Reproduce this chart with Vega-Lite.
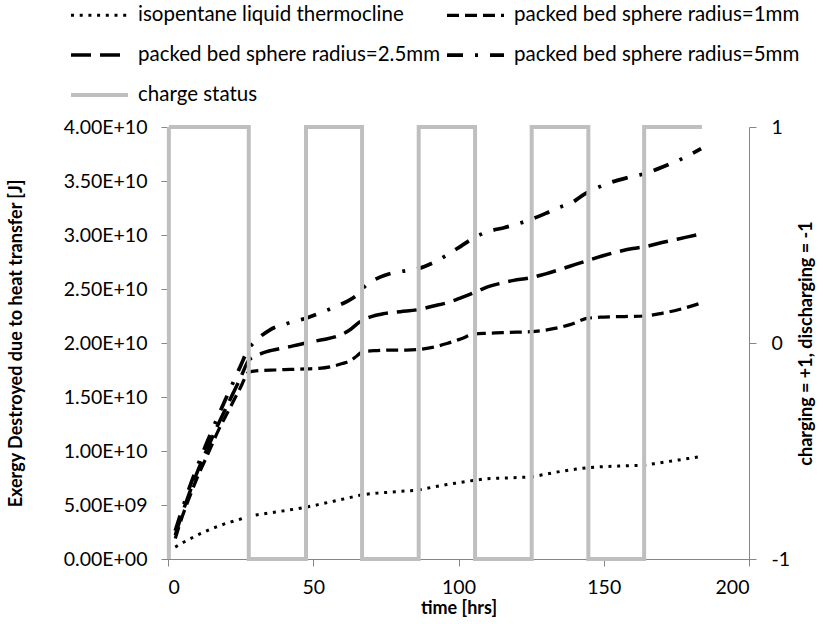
{
  "$schema": "https://vega.github.io/schema/vega-lite/v6.json",
  "width": 581,
  "height": 432,
  "autosize": {"type": "none"},
  "padding": {"left": 168, "top": 127, "right": 74, "bottom": 65},
  "background": "white",
  "config": {
    "view": {"stroke": null},
    "font": "Lato",
    "axis": {
      "grid": false,
      "domainColor": "#868686",
      "tickColor": "#868686",
      "tickSize": 7,
      "labelColor": "#000000",
      "labelFont": "Lato",
      "labelFontSize": 19.5,
      "titleFont": "Lato",
      "titleFontSize": 18,
      "titleFontWeight": "bold",
      "titleColor": "#000000"
    },
    "legend": {
      "labelFont": "Lato",
      "labelFontSize": 20.5,
      "labelColor": "#000000",
      "labelLimit": 0
    }
  },
  "datasets": {
    "d": [
      {"series": "isopentane liquid thermocline", "t": 2.5, "e": 1.1e9},
      {"series": "isopentane liquid thermocline", "t": 5, "e": 1.5e9},
      {"series": "isopentane liquid thermocline", "t": 7.5, "e": 1.85e9},
      {"series": "isopentane liquid thermocline", "t": 10, "e": 2.2e9},
      {"series": "isopentane liquid thermocline", "t": 12.5, "e": 2.5e9},
      {"series": "isopentane liquid thermocline", "t": 15, "e": 2.8e9},
      {"series": "isopentane liquid thermocline", "t": 17.5, "e": 3.05e9},
      {"series": "isopentane liquid thermocline", "t": 20, "e": 3.3e9},
      {"series": "isopentane liquid thermocline", "t": 22.5, "e": 3.5e9},
      {"series": "isopentane liquid thermocline", "t": 25, "e": 3.7e9},
      {"series": "isopentane liquid thermocline", "t": 27.8, "e": 3.95e9},
      {"series": "isopentane liquid thermocline", "t": 32, "e": 4.15e9},
      {"series": "isopentane liquid thermocline", "t": 37, "e": 4.35e9},
      {"series": "isopentane liquid thermocline", "t": 42, "e": 4.55e9},
      {"series": "isopentane liquid thermocline", "t": 47.5, "e": 4.8e9},
      {"series": "isopentane liquid thermocline", "t": 52, "e": 5.05e9},
      {"series": "isopentane liquid thermocline", "t": 57, "e": 5.35e9},
      {"series": "isopentane liquid thermocline", "t": 62, "e": 5.65e9},
      {"series": "isopentane liquid thermocline", "t": 67, "e": 5.95e9},
      {"series": "isopentane liquid thermocline", "t": 72, "e": 6.1e9},
      {"series": "isopentane liquid thermocline", "t": 77, "e": 6.2e9},
      {"series": "isopentane liquid thermocline", "t": 82, "e": 6.3e9},
      {"series": "isopentane liquid thermocline", "t": 86.3, "e": 6.4e9},
      {"series": "isopentane liquid thermocline", "t": 91, "e": 6.65e9},
      {"series": "isopentane liquid thermocline", "t": 96, "e": 6.9e9},
      {"series": "isopentane liquid thermocline", "t": 101, "e": 7.1e9},
      {"series": "isopentane liquid thermocline", "t": 105.7, "e": 7.3e9},
      {"series": "isopentane liquid thermocline", "t": 111, "e": 7.45e9},
      {"series": "isopentane liquid thermocline", "t": 116, "e": 7.5e9},
      {"series": "isopentane liquid thermocline", "t": 121, "e": 7.55e9},
      {"series": "isopentane liquid thermocline", "t": 125.2, "e": 7.62e9},
      {"series": "isopentane liquid thermocline", "t": 130, "e": 7.85e9},
      {"series": "isopentane liquid thermocline", "t": 135, "e": 8.1e9},
      {"series": "isopentane liquid thermocline", "t": 140, "e": 8.3e9},
      {"series": "isopentane liquid thermocline", "t": 144.7, "e": 8.46e9},
      {"series": "isopentane liquid thermocline", "t": 150, "e": 8.55e9},
      {"series": "isopentane liquid thermocline", "t": 155, "e": 8.6e9},
      {"series": "isopentane liquid thermocline", "t": 160, "e": 8.65e9},
      {"series": "isopentane liquid thermocline", "t": 164, "e": 8.7e9},
      {"series": "isopentane liquid thermocline", "t": 169, "e": 8.9e9},
      {"series": "isopentane liquid thermocline", "t": 174, "e": 9.1e9},
      {"series": "isopentane liquid thermocline", "t": 179, "e": 9.3e9},
      {"series": "isopentane liquid thermocline", "t": 183.5, "e": 9.5e9},

      {"series": "packed bed sphere radius=1mm", "t": 2.5, "e": 1.9e9},
      {"series": "packed bed sphere radius=1mm", "t": 5, "e": 4.0e9},
      {"series": "packed bed sphere radius=1mm", "t": 7.5, "e": 5.8e9},
      {"series": "packed bed sphere radius=1mm", "t": 10, "e": 7.5e9},
      {"series": "packed bed sphere radius=1mm", "t": 12.5, "e": 9.0e9},
      {"series": "packed bed sphere radius=1mm", "t": 15, "e": 10.5e9},
      {"series": "packed bed sphere radius=1mm", "t": 17.5, "e": 12.0e9},
      {"series": "packed bed sphere radius=1mm", "t": 20, "e": 13.3e9},
      {"series": "packed bed sphere radius=1mm", "t": 22.5, "e": 14.6e9},
      {"series": "packed bed sphere radius=1mm", "t": 25, "e": 15.9e9},
      {"series": "packed bed sphere radius=1mm", "t": 27.8, "e": 17.3e9},
      {"series": "packed bed sphere radius=1mm", "t": 32, "e": 17.45e9},
      {"series": "packed bed sphere radius=1mm", "t": 37, "e": 17.5e9},
      {"series": "packed bed sphere radius=1mm", "t": 42, "e": 17.55e9},
      {"series": "packed bed sphere radius=1mm", "t": 47.5, "e": 17.6e9},
      {"series": "packed bed sphere radius=1mm", "t": 52, "e": 17.65e9},
      {"series": "packed bed sphere radius=1mm", "t": 56, "e": 17.8e9},
      {"series": "packed bed sphere radius=1mm", "t": 60, "e": 18.1e9},
      {"series": "packed bed sphere radius=1mm", "t": 63, "e": 18.4e9},
      {"series": "packed bed sphere radius=1mm", "t": 65, "e": 18.8e9},
      {"series": "packed bed sphere radius=1mm", "t": 67, "e": 19.2e9},
      {"series": "packed bed sphere radius=1mm", "t": 72, "e": 19.3e9},
      {"series": "packed bed sphere radius=1mm", "t": 77, "e": 19.35e9},
      {"series": "packed bed sphere radius=1mm", "t": 82, "e": 19.35e9},
      {"series": "packed bed sphere radius=1mm", "t": 86.3, "e": 19.4e9},
      {"series": "packed bed sphere radius=1mm", "t": 91, "e": 19.6e9},
      {"series": "packed bed sphere radius=1mm", "t": 96, "e": 19.95e9},
      {"series": "packed bed sphere radius=1mm", "t": 101, "e": 20.4e9},
      {"series": "packed bed sphere radius=1mm", "t": 105.7, "e": 20.85e9},
      {"series": "packed bed sphere radius=1mm", "t": 110, "e": 20.9e9},
      {"series": "packed bed sphere radius=1mm", "t": 115, "e": 20.95e9},
      {"series": "packed bed sphere radius=1mm", "t": 120, "e": 21.0e9},
      {"series": "packed bed sphere radius=1mm", "t": 125, "e": 21.05e9},
      {"series": "packed bed sphere radius=1mm", "t": 130, "e": 21.2e9},
      {"series": "packed bed sphere radius=1mm", "t": 135, "e": 21.45e9},
      {"series": "packed bed sphere radius=1mm", "t": 138.4, "e": 21.7e9},
      {"series": "packed bed sphere radius=1mm", "t": 144.7, "e": 22.3e9},
      {"series": "packed bed sphere radius=1mm", "t": 150, "e": 22.4e9},
      {"series": "packed bed sphere radius=1mm", "t": 157, "e": 22.45e9},
      {"series": "packed bed sphere radius=1mm", "t": 164, "e": 22.5e9},
      {"series": "packed bed sphere radius=1mm", "t": 170, "e": 22.75e9},
      {"series": "packed bed sphere radius=1mm", "t": 176, "e": 23.1e9},
      {"series": "packed bed sphere radius=1mm", "t": 183.5, "e": 23.7e9},

      {"series": "packed bed sphere radius=2.5mm", "t": 2.5, "e": 2.2e9},
      {"series": "packed bed sphere radius=2.5mm", "t": 5, "e": 4.3e9},
      {"series": "packed bed sphere radius=2.5mm", "t": 7.5, "e": 6.2e9},
      {"series": "packed bed sphere radius=2.5mm", "t": 10, "e": 8.0e9},
      {"series": "packed bed sphere radius=2.5mm", "t": 12.5, "e": 9.6e9},
      {"series": "packed bed sphere radius=2.5mm", "t": 15, "e": 11.1e9},
      {"series": "packed bed sphere radius=2.5mm", "t": 17.5, "e": 12.6e9},
      {"series": "packed bed sphere radius=2.5mm", "t": 20, "e": 14.0e9},
      {"series": "packed bed sphere radius=2.5mm", "t": 22.5, "e": 15.4e9},
      {"series": "packed bed sphere radius=2.5mm", "t": 25, "e": 16.8e9},
      {"series": "packed bed sphere radius=2.5mm", "t": 27.8, "e": 18.4e9},
      {"series": "packed bed sphere radius=2.5mm", "t": 31, "e": 18.9e9},
      {"series": "packed bed sphere radius=2.5mm", "t": 34, "e": 19.2e9},
      {"series": "packed bed sphere radius=2.5mm", "t": 40, "e": 19.55e9},
      {"series": "packed bed sphere radius=2.5mm", "t": 47.5, "e": 20.0e9},
      {"series": "packed bed sphere radius=2.5mm", "t": 53, "e": 20.3e9},
      {"series": "packed bed sphere radius=2.5mm", "t": 58, "e": 20.6e9},
      {"series": "packed bed sphere radius=2.5mm", "t": 62, "e": 21.1e9},
      {"series": "packed bed sphere radius=2.5mm", "t": 66.8, "e": 22.1e9},
      {"series": "packed bed sphere radius=2.5mm", "t": 70, "e": 22.45e9},
      {"series": "packed bed sphere radius=2.5mm", "t": 74, "e": 22.7e9},
      {"series": "packed bed sphere radius=2.5mm", "t": 80, "e": 22.9e9},
      {"series": "packed bed sphere radius=2.5mm", "t": 86.3, "e": 23.1e9},
      {"series": "packed bed sphere radius=2.5mm", "t": 91, "e": 23.4e9},
      {"series": "packed bed sphere radius=2.5mm", "t": 97, "e": 23.8e9},
      {"series": "packed bed sphere radius=2.5mm", "t": 101, "e": 24.2e9},
      {"series": "packed bed sphere radius=2.5mm", "t": 105.7, "e": 24.7e9},
      {"series": "packed bed sphere radius=2.5mm", "t": 110, "e": 25.2e9},
      {"series": "packed bed sphere radius=2.5mm", "t": 114, "e": 25.5e9},
      {"series": "packed bed sphere radius=2.5mm", "t": 119, "e": 25.8e9},
      {"series": "packed bed sphere radius=2.5mm", "t": 124, "e": 26.0e9},
      {"series": "packed bed sphere radius=2.5mm", "t": 130, "e": 26.4e9},
      {"series": "packed bed sphere radius=2.5mm", "t": 136, "e": 26.9e9},
      {"series": "packed bed sphere radius=2.5mm", "t": 140, "e": 27.25e9},
      {"series": "packed bed sphere radius=2.5mm", "t": 144, "e": 27.6e9},
      {"series": "packed bed sphere radius=2.5mm", "t": 150, "e": 28.1e9},
      {"series": "packed bed sphere radius=2.5mm", "t": 155.6, "e": 28.5e9},
      {"series": "packed bed sphere radius=2.5mm", "t": 160, "e": 28.75e9},
      {"series": "packed bed sphere radius=2.5mm", "t": 164, "e": 28.9e9},
      {"series": "packed bed sphere radius=2.5mm", "t": 170, "e": 29.3e9},
      {"series": "packed bed sphere radius=2.5mm", "t": 178.5, "e": 29.8e9},
      {"series": "packed bed sphere radius=2.5mm", "t": 183.5, "e": 30.1e9},

      {"series": "packed bed sphere radius=5mm", "t": 2.5, "e": 2.6e9},
      {"series": "packed bed sphere radius=5mm", "t": 5, "e": 4.7e9},
      {"series": "packed bed sphere radius=5mm", "t": 7.5, "e": 6.7e9},
      {"series": "packed bed sphere radius=5mm", "t": 10, "e": 8.5e9},
      {"series": "packed bed sphere radius=5mm", "t": 12.5, "e": 10.2e9},
      {"series": "packed bed sphere radius=5mm", "t": 15, "e": 11.8e9},
      {"series": "packed bed sphere radius=5mm", "t": 17.5, "e": 13.4e9},
      {"series": "packed bed sphere radius=5mm", "t": 20, "e": 14.9e9},
      {"series": "packed bed sphere radius=5mm", "t": 22.5, "e": 16.4e9},
      {"series": "packed bed sphere radius=5mm", "t": 25, "e": 17.9e9},
      {"series": "packed bed sphere radius=5mm", "t": 27.8, "e": 19.5e9},
      {"series": "packed bed sphere radius=5mm", "t": 29.4, "e": 20.0e9},
      {"series": "packed bed sphere radius=5mm", "t": 35, "e": 21.2e9},
      {"series": "packed bed sphere radius=5mm", "t": 41, "e": 21.8e9},
      {"series": "packed bed sphere radius=5mm", "t": 47.5, "e": 22.3e9},
      {"series": "packed bed sphere radius=5mm", "t": 53, "e": 22.85e9},
      {"series": "packed bed sphere radius=5mm", "t": 58, "e": 23.4e9},
      {"series": "packed bed sphere radius=5mm", "t": 62, "e": 23.9e9},
      {"series": "packed bed sphere radius=5mm", "t": 64.4, "e": 24.3e9},
      {"series": "packed bed sphere radius=5mm", "t": 68.4, "e": 25.4e9},
      {"series": "packed bed sphere radius=5mm", "t": 73, "e": 26.1e9},
      {"series": "packed bed sphere radius=5mm", "t": 77.6, "e": 26.5e9},
      {"series": "packed bed sphere radius=5mm", "t": 82, "e": 26.7e9},
      {"series": "packed bed sphere radius=5mm", "t": 86.3, "e": 26.9e9},
      {"series": "packed bed sphere radius=5mm", "t": 91, "e": 27.4e9},
      {"series": "packed bed sphere radius=5mm", "t": 97, "e": 28.3e9},
      {"series": "packed bed sphere radius=5mm", "t": 101, "e": 29.0e9},
      {"series": "packed bed sphere radius=5mm", "t": 105.7, "e": 29.8e9},
      {"series": "packed bed sphere radius=5mm", "t": 110, "e": 30.3e9},
      {"series": "packed bed sphere radius=5mm", "t": 116, "e": 30.7e9},
      {"series": "packed bed sphere radius=5mm", "t": 123.5, "e": 31.3e9},
      {"series": "packed bed sphere radius=5mm", "t": 130, "e": 32.0e9},
      {"series": "packed bed sphere radius=5mm", "t": 135, "e": 32.6e9},
      {"series": "packed bed sphere radius=5mm", "t": 138.4, "e": 32.9e9},
      {"series": "packed bed sphere radius=5mm", "t": 143.5, "e": 33.8e9},
      {"series": "packed bed sphere radius=5mm", "t": 148, "e": 34.4e9},
      {"series": "packed bed sphere radius=5mm", "t": 152.7, "e": 34.9e9},
      {"series": "packed bed sphere radius=5mm", "t": 158, "e": 35.3e9},
      {"series": "packed bed sphere radius=5mm", "t": 163, "e": 35.6e9},
      {"series": "packed bed sphere radius=5mm", "t": 168.4, "e": 36.1e9},
      {"series": "packed bed sphere radius=5mm", "t": 173, "e": 36.6e9},
      {"series": "packed bed sphere radius=5mm", "t": 178, "e": 37.2e9},
      {"series": "packed bed sphere radius=5mm", "t": 183.5, "e": 38.0e9},

      {"series": "charge status", "t": 0.3, "s": -1},
      {"series": "charge status", "t": 0.3, "s": 1},
      {"series": "charge status", "t": 27.8, "s": 1},
      {"series": "charge status", "t": 27.8, "s": -1},
      {"series": "charge status", "t": 47.5, "s": -1},
      {"series": "charge status", "t": 47.5, "s": 1},
      {"series": "charge status", "t": 66.8, "s": 1},
      {"series": "charge status", "t": 66.8, "s": -1},
      {"series": "charge status", "t": 86.3, "s": -1},
      {"series": "charge status", "t": 86.3, "s": 1},
      {"series": "charge status", "t": 105.7, "s": 1},
      {"series": "charge status", "t": 105.7, "s": -1},
      {"series": "charge status", "t": 125.2, "s": -1},
      {"series": "charge status", "t": 125.2, "s": 1},
      {"series": "charge status", "t": 144.7, "s": 1},
      {"series": "charge status", "t": 144.7, "s": -1},
      {"series": "charge status", "t": 163.9, "s": -1},
      {"series": "charge status", "t": 163.9, "s": 1},
      {"series": "charge status", "t": 183.8, "s": 1}
    ]
  },
  "data": {"name": "d"},
  "layer": [
    {
      "transform": [{"filter": "datum.series !== 'charge status'"}],
      "mark": {"type": "line", "interpolate": "monotone"},
      "encoding": {
        "x": {
          "field": "t", "type": "quantitative",
          "scale": {"domain": [0, 200], "nice": false},
          "axis": {"values": [0, 50, 100, 150, 200], "title": "time [hrs]", "labelPadding": 12, "titlePadding": 3}
        },
        "y": {
          "field": "e", "type": "quantitative",
          "scale": {"domain": [0, 40000000000], "nice": false},
          "axis": {
            "orient": "left",
            "values": [0, 5000000000, 10000000000, 15000000000, 20000000000, 25000000000, 30000000000, 35000000000, 40000000000],
            "labelExpr": "datum.value == 0 ? '0.00E+00' : (datum.value < 1e10 ? replace(format(datum.value, '.2e'), 'e+', 'E+0') : replace(format(datum.value, '.2e'), 'e', 'E'))",
            "labelPadding": 14,
            "title": "Exergy Destroyed due to heat transfer [J]",
            "titlePadding": 38
          }
        },
        "color": {
          "field": "series", "type": "nominal",
          "scale": {
            "domain": ["isopentane liquid thermocline", "packed bed sphere radius=1mm", "packed bed sphere radius=2.5mm", "packed bed sphere radius=5mm", "charge status"],
            "range": ["#000000", "#000000", "#000000", "#000000", "#bfbfbf"]
          },
          "legend": {
            "title": null, "orient": "none", "legendX": -99, "legendY": -121, "direction": "horizontal",
            "columns": 2, "symbolType": "stroke", "symbolSize": 3249,
            "clipHeight": 18, "labelOffset": 8, "columnPadding": 4, "rowPadding": 19, "padding": 0
          }
        },
        "strokeDash": {
          "field": "series", "type": "nominal",
          "scale": {
            "domain": ["isopentane liquid thermocline", "packed bed sphere radius=1mm", "packed bed sphere radius=2.5mm", "packed bed sphere radius=5mm", "charge status"],
            "range": [[3, 5.7], [12, 6], [20, 9], [16, 12, 3, 12], [1, 0]]
          },
          "legend": {
            "title": null, "orient": "none", "legendX": -99, "legendY": -121, "direction": "horizontal",
            "columns": 2, "symbolType": "stroke", "symbolSize": 3249,
            "clipHeight": 18, "labelOffset": 8, "columnPadding": 4, "rowPadding": 19, "padding": 0
          }
        },
        "strokeWidth": {
          "field": "series", "type": "nominal",
          "scale": {
            "domain": ["isopentane liquid thermocline", "packed bed sphere radius=1mm", "packed bed sphere radius=2.5mm", "packed bed sphere radius=5mm", "charge status"],
            "range": [3, 4, 4, 4, 3.5]
          },
          "legend": {
            "title": null, "orient": "none", "legendX": -99, "legendY": -121, "direction": "horizontal",
            "columns": 2, "symbolType": "stroke", "symbolSize": 3249,
            "clipHeight": 18, "labelOffset": 8, "columnPadding": 4, "rowPadding": 19, "padding": 0
          }
        }
      }
    },
    {
      "transform": [{"filter": "datum.series === 'charge status'"}],
      "mark": {"type": "line"},
      "encoding": {
        "x": {"field": "t", "type": "quantitative"},
        "y": {
          "field": "s", "type": "quantitative",
          "scale": {"domain": [-1, 1], "nice": false},
          "axis": {
            "orient": "right",
            "values": [-1, 0, 1],
            "labelExpr": "datum.value < 0 ? '-1' : (datum.value > 0 ? '1' : '0')",
            "labelPadding": 15,
            "title": "charging = +1, discharging = -1",
            "titleAngle": 270,
            "titlePadding": 26
          }
        },
        "order": {"value": null},
        "color": {
          "field": "series", "type": "nominal",
          "scale": {
            "domain": ["isopentane liquid thermocline", "packed bed sphere radius=1mm", "packed bed sphere radius=2.5mm", "packed bed sphere radius=5mm", "charge status"],
            "range": ["#000000", "#000000", "#000000", "#000000", "#bfbfbf"]
          }
        },
        "strokeDash": {
          "field": "series", "type": "nominal",
          "scale": {
            "domain": ["isopentane liquid thermocline", "packed bed sphere radius=1mm", "packed bed sphere radius=2.5mm", "packed bed sphere radius=5mm", "charge status"],
            "range": [[3, 5.7], [12, 6], [20, 9], [16, 12, 3, 12], [1, 0]]
          }
        },
        "strokeWidth": {
          "field": "series", "type": "nominal",
          "scale": {
            "domain": ["isopentane liquid thermocline", "packed bed sphere radius=1mm", "packed bed sphere radius=2.5mm", "packed bed sphere radius=5mm", "charge status"],
            "range": [3, 4, 4, 4, 3.5]
          }
        }
      }
    }
  ],
  "resolve": {"scale": {"y": "independent"}}
}
